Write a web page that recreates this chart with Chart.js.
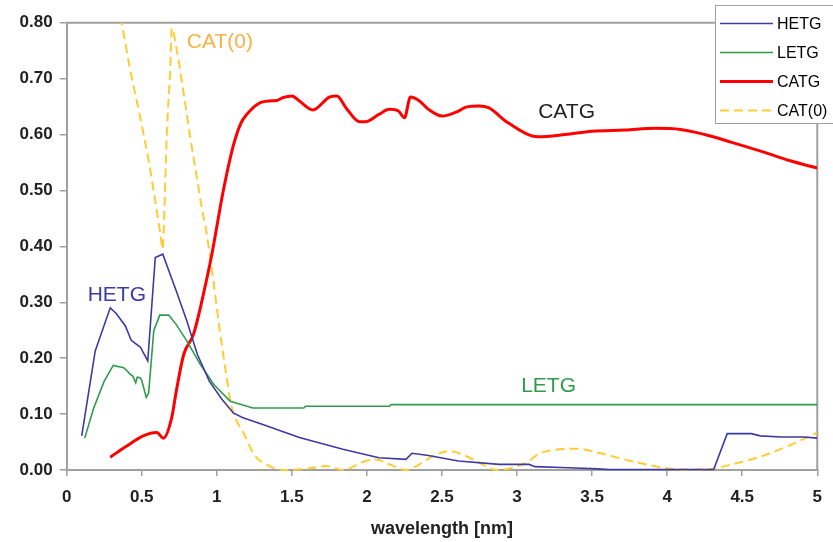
<!DOCTYPE html>
<html>
<head>
<meta charset="utf-8">
<script src="https://cdn.jsdelivr.net/npm/chart.js@4/dist/chart.umd.min.js"></script>
<style>
html,body{margin:0;padding:0;background:#fff;}
#wrap{width:833px;height:542px;position:relative;}
</style>
</head>
<body>
<div id="wrap"><canvas id="c" width="833" height="542"></canvas></div>
<script>
// ---------- data ----------
const seriesNames = ["HETG", "LETG", "CATG", "CAT(0)"];
const xTicks = [0, 0.5, 1, 1.5, 2, 2.5, 3, 3.5, 4, 4.5, 5];
const yTicks = [0, 0.1, 0.2, 0.3, 0.4, 0.5, 0.6, 0.7, 0.8];

const hetgX = [0.10, 0.19, 0.29, 0.33, 0.39, 0.43, 0.45, 0.49, 0.54, 0.59, 0.64, 0.73, 0.80, 0.87, 0.95, 1.03, 1.11, 1.17, 1.33, 1.55, 1.84, 2.08, 2.26, 2.30, 2.41, 2.61, 2.88, 3.08, 3.12, 3.34, 3.54, 3.61, 4.31, 4.40, 4.56, 4.62, 4.76, 4.91, 5.00];
const hetgY = [0.061, 0.213, 0.290, 0.280, 0.258, 0.232, 0.228, 0.220, 0.195, 0.380, 0.386, 0.320, 0.267, 0.207, 0.159, 0.128, 0.102, 0.094, 0.079, 0.058, 0.037, 0.022, 0.019, 0.030, 0.026, 0.016, 0.010, 0.010, 0.006, 0.004, 0.002, 0.001, 0.001, 0.065, 0.065, 0.061, 0.059, 0.059, 0.057];

const letgX = [0.12, 0.18, 0.25, 0.31, 0.38, 0.40, 0.42, 0.44, 0.46, 0.47, 0.49, 0.50, 0.52, 0.53, 0.546, 0.58, 0.62, 0.68, 0.73, 0.80, 0.89, 0.98, 1.09, 1.24, 1.58, 1.59, 2.15, 2.16, 5.00];
const letgY = [0.057, 0.111, 0.159, 0.187, 0.183, 0.178, 0.172, 0.168, 0.156, 0.166, 0.165, 0.160, 0.140, 0.130, 0.138, 0.249, 0.277, 0.277, 0.260, 0.231, 0.189, 0.153, 0.123, 0.111, 0.111, 0.114, 0.114, 0.117, 0.117];

const catgX = [0.29, 0.40, 0.51, 0.60, 0.645, 0.70, 0.73, 0.78, 0.845, 0.93, 0.97, 1.00, 1.04, 1.11, 1.16, 1.20, 1.25, 1.29, 1.35, 1.40, 1.44, 1.50, 1.55, 1.64, 1.75, 1.80, 1.86, 1.95, 1.99, 2.08, 2.15, 2.21, 2.25, 2.29, 2.35, 2.41, 2.50, 2.61, 2.66, 2.75, 2.81, 2.94, 3.14, 3.32, 3.50, 3.72, 3.92, 4.09, 4.25, 4.43, 4.65, 4.82, 5.00];
const catgY = [0.023, 0.043, 0.061, 0.067, 0.057, 0.094, 0.141, 0.207, 0.243, 0.338, 0.390, 0.435, 0.495, 0.580, 0.620, 0.636, 0.650, 0.657, 0.660, 0.661, 0.666, 0.669, 0.660, 0.644, 0.667, 0.669, 0.648, 0.623, 0.623, 0.636, 0.645, 0.642, 0.630, 0.667, 0.660, 0.645, 0.633, 0.642, 0.649, 0.651, 0.648, 0.621, 0.596, 0.600, 0.606, 0.608, 0.611, 0.609, 0.600, 0.586, 0.568, 0.553, 0.540];

const cat0X = [0.32, 0.37, 0.42, 0.49, 0.546, 0.59, 0.625, 0.64, 0.645, 0.667, 0.69, 0.70, 0.734, 0.78, 0.82, 0.867, 0.90, 0.933, 0.977, 1.02, 1.066, 1.09, 1.12, 1.18, 1.25, 1.35, 1.46, 1.62, 1.73, 1.84, 1.99, 2.06, 2.15, 2.26, 2.35, 2.44, 2.55, 2.66, 2.77, 2.86, 2.97, 3.08, 3.14, 3.28, 3.41, 3.54, 3.76, 3.98, 4.09, 4.29, 4.43, 4.60, 4.78, 4.93, 5.00];
const cat0Y = [0.860, 0.794, 0.720, 0.630, 0.553, 0.481, 0.420, 0.395, 0.420, 0.600, 0.720, 0.790, 0.750, 0.672, 0.600, 0.523, 0.469, 0.422, 0.338, 0.249, 0.165, 0.123, 0.095, 0.065, 0.027, 0.007, 0.000, 0.003, 0.007, 0.000, 0.016, 0.019, 0.010, 0.000, 0.010, 0.025, 0.034, 0.025, 0.010, 0.000, 0.004, 0.016, 0.028, 0.037, 0.038, 0.031, 0.016, 0.004, 0.001, 0.002, 0.010, 0.022, 0.040, 0.058, 0.067];

// ---------- build ----------
const pts = (xs, ys) => xs.map((x, i) => ({x: x, y: ys[i]}));
const FONT = "'Liberation Sans', Arial, sans-serif";
const AXIS = '#a0a0a0';

const styles = [
  {color: '#3d3aa3', width: 1.6, dash: [], smooth: false},
  {color: '#2f9c4c', width: 1.6, dash: [], smooth: false},
  {color: '#ff0000', width: 3, dash: [], smooth: true},
  {color: '#ffcc33', width: 2, dash: [9, 5], smooth: true}
];
const seriesData = [pts(hetgX, hetgY), pts(letgX, letgY), pts(catgX, catgY), pts(cat0X, cat0Y)];

const datasets = seriesNames.map((name, i) => ({
  label: name,
  data: seriesData[i],
  showLine: true,
  borderColor: styles[i].color,
  backgroundColor: styles[i].color,
  borderWidth: styles[i].width,
  borderDash: styles[i].dash,
  pointRadius: 0,
  tension: styles[i].smooth ? 0.35 : 0,
  cubicInterpolationMode: styles[i].smooth ? 'monotone' : 'default',
  clip: {left: 0, top: 0, right: 0, bottom: 5}
}));

// in-plot series labels (data coordinates)
const seriesLabels = [
  {text: 'HETG', x: 0.334, y: 0.313, color: '#3b3ba6'},
  {text: 'LETG', x: 3.21, y: 0.150, color: '#2f9c4c'},
  {text: 'CATG', x: 3.33, y: 0.640, color: '#222222'},
  {text: 'CAT(0)', x: 1.02, y: 0.766, color: '#f6b343'}
];

const framePlugin = {
  id: 'frame',
  beforeDatasetsDraw(chart) {
    const {ctx, chartArea: a} = chart;
    ctx.save();
    ctx.strokeStyle = AXIS;
    ctx.lineWidth = 2;
    ctx.beginPath();
    ctx.moveTo(a.left, a.top);
    ctx.lineTo(a.right, a.top);
    ctx.lineTo(a.right, a.bottom);
    ctx.stroke();
    ctx.restore();
  }
};

const labelPlugin = {
  id: 'seriesLabels',
  afterDatasetsDraw(chart) {
    const {ctx, scales} = chart;
    ctx.save();
    ctx.font = '21px ' + FONT;
    ctx.textAlign = 'center';
    ctx.textBaseline = 'middle';
    seriesLabels.forEach(l => {
      ctx.fillStyle = l.color;
      ctx.fillText(l.text, scales.x.getPixelForValue(l.x), scales.y.getPixelForValue(l.y));
    });
    ctx.restore();
  }
};

const legendPlugin = {
  id: 'boxLegend',
  afterDraw(chart) {
    const {ctx} = chart;
    ctx.save();
    ctx.fillStyle = '#ffffff';
    ctx.fillRect(715, 5, 130, 118);
    ctx.strokeStyle = AXIS;
    ctx.lineWidth = 1;
    ctx.strokeRect(715.5, 5.5, 130, 118);
    ctx.font = '16px ' + FONT;
    ctx.textAlign = 'left';
    ctx.textBaseline = 'middle';
    chart.data.datasets.forEach((ds, i) => {
      const y = 23.5 + i * 29;
      ctx.strokeStyle = ds.borderColor;
      ctx.lineWidth = ds.borderWidth;
      ctx.setLineDash(ds.borderDash || []);
      ctx.beginPath();
      ctx.moveTo(720, y);
      ctx.lineTo(773, y);
      ctx.stroke();
      ctx.setLineDash([]);
      ctx.fillStyle = '#000';
      ctx.fillText(ds.label, 777, y + 1);
    });
    ctx.restore();
  }
};

new Chart(document.getElementById('c'), {
  type: 'scatter',
  data: {datasets: datasets},
  options: {
    responsive: false,
    animation: false,
    layout: {padding: {top: 22.7, right: 13.7, left: 0, bottom: 0}},
    plugins: {legend: {display: false}, tooltip: {enabled: false}},
    scales: {
      x: {
        type: 'linear', min: 0, max: 5,
        afterBuildTicks: s => { s.ticks = xTicks.map(v => ({value: v})); },
        afterFit: s => { s.height = 72; },
        ticks: {
          callback: v => String(v),
          font: {family: FONT, size: 17, weight: 'bold'},
          color: '#222', padding: 11, maxRotation: 0, autoSkip: false
        },
        grid: {display: true, drawOnChartArea: false, drawTicks: true, tickLength: 6, color: AXIS, lineWidth: 1.5},
        border: {display: true, color: AXIS, width: 2},
        title: {display: true, text: 'wavelength [nm]', font: {family: FONT, size: 18, weight: 'bold'}, color: '#222', padding: {top: 0, bottom: 2}}
      },
      y: {
        type: 'linear', min: 0, max: 0.8,
        afterBuildTicks: s => { s.ticks = yTicks.map(v => ({value: v})); },
        afterFit: s => { s.width = 66.7; },
        ticks: {
          callback: v => Number(v).toFixed(2),
          font: {family: FONT, size: 17, weight: 'bold'},
          color: '#222', padding: 7, autoSkip: false
        },
        grid: {display: true, drawOnChartArea: false, drawTicks: true, tickLength: 7, color: AXIS, lineWidth: 1.5},
        border: {display: true, color: AXIS, width: 2}
      }
    }
  },
  plugins: [framePlugin, labelPlugin, legendPlugin]
});
</script>
</body>
</html>
